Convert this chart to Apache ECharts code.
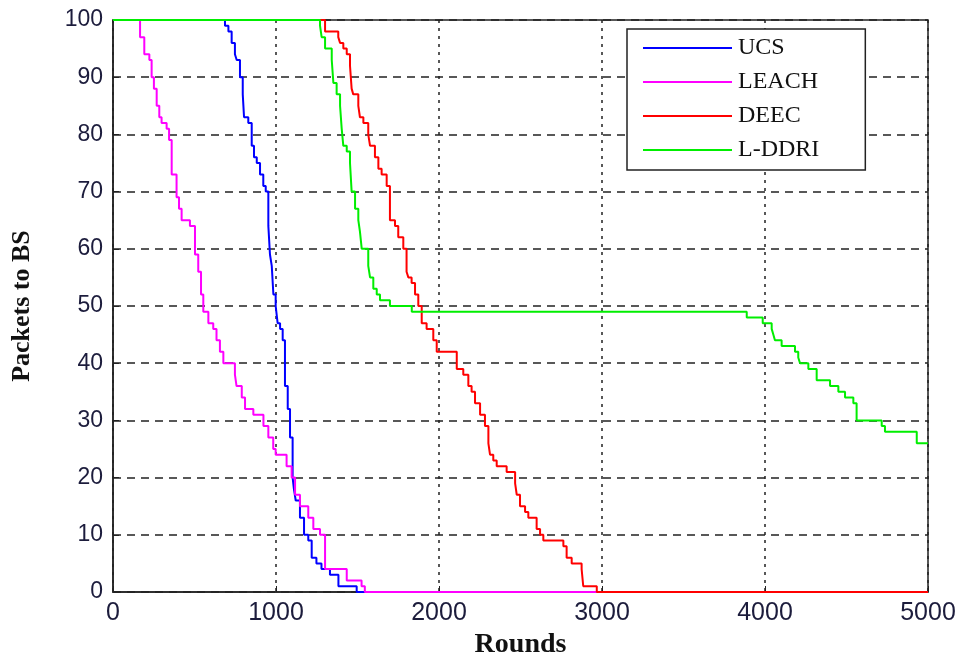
<!DOCTYPE html>
<html>
<head>
<meta charset="utf-8">
<script src="https://cdn.jsdelivr.net/npm/echarts@6/dist/echarts.min.js"></script>
<style>html,body{margin:0;padding:0;background:#fff;}#c{width:959px;height:654px;}</style>
</head>
<body>
<div id="c"></div>
<script>
var seriesNames = ['UCS', 'LEACH', 'DEEC', 'L-DDRI'];
var xTicks = [0, 1000, 2000, 3000, 4000, 5000];
var yTicks = [0, 10, 20, 30, 40, 50, 60, 70, 80, 90, 100];

// [round, packets] : value holds from that round onward (step)
var ucs = [[0,100],[687,99],[708,98],[728,96],[748,94],[759,93],[779,90],[796,87],[804,83],[830,82],[851,78],[865,76],[882,75],[902,73],[922,71],[937,70],[953,64],[963,59],[974,57],[984,52],[998,50],[1010,47],[1025,46],[1041,44],[1055,36],[1072,32],[1086,27],[1102,20],[1110,18],[1121,16],[1147,13],[1172,10],[1198,9],[1219,6],[1248,5],[1279,4],[1331,3],[1383,1],[1495,0],[1545,0]];

var leach = [[0,100],[166,97],[192,94],[223,93],[237,90],[251,88],[268,85],[284,83],[298,82],[329,81],[344,79],[360,73],[390,69],[405,67],[421,65],[472,64],[503,59],[523,56],[540,52],[554,49],[585,47],[615,46],[635,44],[656,42],[677,40],[748,38],[758,36],[790,34],[810,32],[861,31],[923,29],[953,27],[983,25],[998,24],[1065,22],[1096,20],[1117,17],[1147,15],[1198,13],[1229,11],[1270,10],[1301,4],[1434,2],[1525,1],[1545,0],[3000,0]];

var deec = [[0,100],[1301,98],[1382,97],[1393,96],[1413,95],[1434,94],[1454,92],[1464,88],[1474,87],[1505,85],[1515,83],[1536,82],[1566,80],[1577,78],[1607,76],[1628,74],[1648,73],[1679,71],[1699,65],[1730,64],[1750,62],[1781,60],[1801,56],[1812,55],[1832,54],[1853,52],[1873,50],[1894,47],[1924,46],[1965,44],[1986,42],[2109,39],[2149,38],[2180,36],[2200,35],[2221,33],[2252,31],[2282,29],[2303,26],[2313,24],[2333,23],[2354,22],[2415,21],[2467,19],[2477,17],[2497,15],[2528,14],[2548,13],[2599,11],[2620,10],[2640,9],[2661,9],[2763,8],[2783,6],[2814,5],[2875,4],[2885,1],[2968,0],[5000,0]];

var lddri = [[0,100],[1270,99],[1280,97],[1301,95],[1342,93],[1352,89],[1372,87],[1393,85],[1403,81],[1413,78],[1434,77],[1454,75],[1464,70],[1485,67],[1505,65],[1515,63],[1526,60],[1566,57],[1577,55],[1597,53],[1618,52],[1638,51],[1699,50],[1833,49],[3888,48],[3986,47],[4041,46],[4051,45],[4061,44],[4102,43],[4184,42],[4204,41],[4215,40],[4266,39],[4317,37],[4399,36],[4450,35],[4491,34],[4542,33],[4562,30],[4716,29],[4736,28],[4931,26],[5000,26]];

var colors = ['#0000ff', '#ff00ff', '#ff0000', '#00ee00'];
var datasets = [ucs, leach, deec, lddri];

var chart = echarts.init(document.getElementById('c'));
chart.setOption({
  animation: false,
  backgroundColor: '#ffffff',
  grid: { left: 113, right: 31, top: 20, bottom: 62, show: true, borderColor: '#222', borderWidth: 1.5,
    backgroundColor: 'transparent', containLabel: false, outerBoundsMode: 'none' },
  legend: {
    orient: 'vertical',
    left: 627, top: 29,
    data: seriesNames,
    icon: 'rect',
    itemWidth: 89, itemHeight: 2,
    itemGap: 10,
    padding: [7, 46, 8, 16],
    borderColor: '#222', borderWidth: 1.5,
    backgroundColor: '#fff',
    textStyle: { fontFamily: 'Liberation Serif', fontSize: 24, color: '#111', padding: [0, 0, 0, 1] }
  },
  xAxis: {
    type: 'value', min: 0, max: 5000, interval: 1000,
    axisLine: { show: true, lineStyle: { color: '#222', width: 1.5 } },
    axisTick: { show: true, inside: true, length: 6, lineStyle: { color: '#222' } },
    axisLabel: { fontFamily: 'Liberation Sans', fontSize: 25, color: '#1c1c3c', margin: 9,
      formatter: function (v) { return String(v); } },
    splitLine: { show: true, lineStyle: { color: '#222', type: [3, 5], width: 1.5 } },
    name: 'Rounds', nameLocation: 'middle', nameGap: 35,
    nameTextStyle: { fontFamily: 'Liberation Serif', fontWeight: 'bold', fontSize: 28, color: '#111' }
  },
  yAxis: {
    type: 'value', min: 0, max: 100, interval: 10,
    axisLine: { show: true, lineStyle: { color: '#222', width: 1.5 } },
    axisTick: { show: true, inside: true, length: 6, lineStyle: { color: '#222' } },
    axisLabel: { fontFamily: 'Liberation Sans', fontSize: 23, color: '#1c1c3c', margin: 10,
      formatter: function (v) { return String(v); } },
    splitLine: { show: true, lineStyle: { color: '#222', type: [8, 6], width: 1.5 } },
    name: 'Packets to BS', nameLocation: 'middle', nameGap: 78, nameRotate: 90,
    nameTextStyle: { fontFamily: 'Liberation Serif', fontWeight: 'bold', fontSize: 26, color: '#111' }
  },
  series: seriesNames.map(function (n, i) {
    return {
      name: n, type: 'line', step: 'end', data: datasets[i],
      symbol: 'none', color: colors[i],
      lineStyle: { color: colors[i], width: 2 },
      z: 2 + i
    };
  })
});
</script>
</body>
</html>
